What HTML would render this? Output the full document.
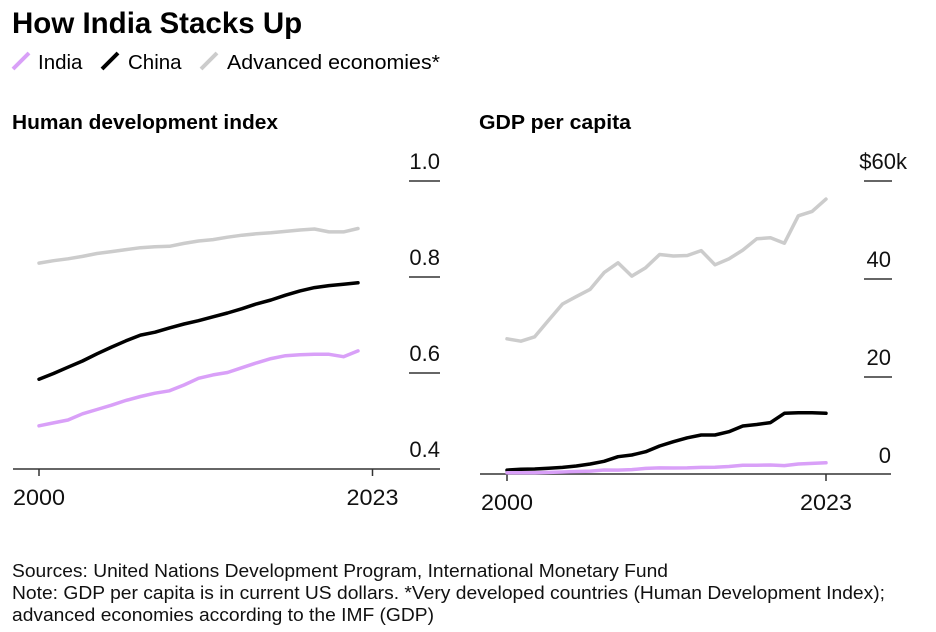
<!DOCTYPE html>
<html><head><meta charset="utf-8">
<style>
html,body{margin:0;padding:0;background:#fff;width:936px;height:632px;overflow:hidden}
svg{display:block;font-family:"Liberation Sans",Arial,sans-serif}
</style></head>
<body>
<svg id="chart" width="936" height="632" viewBox="0 0 936 632">
<text x="12" y="33" font-size="29.5" font-weight="bold" fill="#000">How India Stacks Up</text>
<g>
<g><line x1="13" y1="69" x2="29" y2="53" stroke="#d9a0f8" stroke-width="4"/><text x="38" y="69" font-size="20.5">India</text></g>
<g><line x1="102" y1="69" x2="118" y2="53" stroke="#000" stroke-width="4"/><text x="128" y="69" font-size="20.5">China</text></g>
<g><line x1="201" y1="69" x2="217" y2="53" stroke="#cccccc" stroke-width="4"/><text x="227" y="69" font-size="20.5" textLength="213" lengthAdjust="spacingAndGlyphs">Advanced economies*</text></g>
</g>
<text x="12" y="129" font-size="20.5" font-weight="bold" textLength="266" lengthAdjust="spacingAndGlyphs">Human development index</text>
<text x="479" y="129" font-size="20.5" font-weight="bold" textLength="152" lengthAdjust="spacingAndGlyphs">GDP per capita</text>
<g id="left"></g>
<g id="right"></g>
<g font-size="18.5" fill="#111">
<text x="12" y="577" textLength="656" lengthAdjust="spacingAndGlyphs">Sources: United Nations Development Program, International Monetary Fund</text>
<text x="12" y="599" textLength="873" lengthAdjust="spacingAndGlyphs">Note: GDP per capita is in current US dollars. *Very developed countries (Human Development Index);</text>
<text x="12" y="621" textLength="422" lengthAdjust="spacingAndGlyphs">advanced economies according to the IMF (GDP)</text>
</g>
</svg>
<script>
const hdiYears = [2000,2001,2002,2003,2004,2005,2006,2007,2008,2009,2010,2011,2012,2013,2014,2015,2016,2017,2018,2019,2020,2021,2022];
const hdiIndia = [0.490,0.496,0.502,0.515,0.524,0.533,0.543,0.551,0.558,0.563,0.575,0.589,0.596,0.601,0.611,0.621,0.630,0.636,0.638,0.639,0.639,0.634,0.646];
const hdiChina = [0.587,0.599,0.612,0.625,0.640,0.654,0.667,0.679,0.685,0.694,0.702,0.709,0.717,0.725,0.734,0.744,0.752,0.762,0.771,0.778,0.782,0.785,0.788];
const hdiAdvanced = [0.829,0.834,0.838,0.843,0.849,0.853,0.857,0.861,0.863,0.864,0.870,0.875,0.878,0.883,0.887,0.890,0.892,0.895,0.898,0.900,0.894,0.894,0.901];
const hdiTicks = [0.4,0.6,0.8,1.0];
const hdiTickLabels = ["0.4","0.6","0.8","1.0"];

const gdpYears = [2000,2001,2002,2003,2004,2005,2006,2007,2008,2009,2010,2011,2012,2013,2014,2015,2016,2017,2018,2019,2020,2021,2022,2023];
const gdpIndia = [0.44,0.45,0.47,0.54,0.62,0.71,0.80,1.02,1.00,1.10,1.35,1.45,1.43,1.44,1.56,1.59,1.73,1.98,1.97,2.05,1.91,2.25,2.37,2.48];
const gdpChina = [1.0,1.16,1.22,1.36,1.56,1.84,2.25,2.79,3.74,4.08,4.76,5.92,6.8,7.6,8.16,8.16,8.84,10.0,10.3,10.7,12.6,12.7,12.7,12.6];
const gdpAdvanced = [27.8,27.3,28.2,31.6,34.9,36.4,37.9,41.3,43.3,40.6,42.3,45.0,44.7,44.8,45.8,42.9,44.1,45.9,48.2,48.4,47.3,52.9,53.8,56.3];
const gdpTicks = [0,20,40,60];
const gdpTickLabels = ["0","20","40","$60k"];

const NS="http://www.w3.org/2000/svg";
function mk(tag,attrs,parent){const e=document.createElementNS(NS,tag);for(const k in attrs)e.setAttribute(k,attrs[k]);parent.appendChild(e);return e;}

function drawPanel(g,cfg){
  const x=yr=>cfg.x0+(yr-2000)*(cfg.x1-cfg.x0)/23;
  const y=v=>cfg.yBase-(v-cfg.vMin)*cfg.pxPerUnit;
  const ax=mk('line',{x1:cfg.axL,x2:cfg.axR,y1:cfg.axisY,y2:cfg.axisY,stroke:'#333','stroke-width':1.5},g);
  
  
  [2000,2023].forEach(yr=>{
    const t=mk('line',{x1:x(yr),x2:x(yr),y1:cfg.axisY,y2:cfg.axisY+7,stroke:'#333','stroke-width':1.5},g);
    
    
    const l=mk('text',{x:x(yr),y:cfg.axisY+36,'font-size':22,'text-anchor':'middle',fill:'#111',textLength:52,lengthAdjust:'spacingAndGlyphs'},g);
    l.textContent=String(yr);
    
    
  });
  cfg.ticks.forEach((v,i)=>{
    const yy=y(v);
    if(i>0){
      const gl=mk('line',{x1:cfg.gL,x2:cfg.gR,y1:yy,y2:yy,stroke:'#333','stroke-width':1.5},g);
      
      
    }
    const lab=cfg.labels[i];
    const lx=/k$/.test(lab)?cfg.labR+16:cfg.labR;
    const l=mk('text',{x:lx,y:yy-12,'font-size':22,'text-anchor':'end',fill:'#111'},g);
    l.textContent=lab;
    
    
  });
  cfg.series.forEach(s=>{
    const d=s.vals.map((v,i)=>(i?'L':'M')+x(cfg.years[i]).toFixed(1)+','+y(v).toFixed(1)).join(' ');
    const p=mk('path',{d:d,fill:'none',stroke:s.color,'stroke-width':3.5,'stroke-linejoin':'round','stroke-linecap':'round'},g);
    
    
  });
}
drawPanel(document.getElementById('left'),{
  x0:39,x1:372.5,yBase:469,vMin:0.4,pxPerUnit:480,axisY:469,axL:13,axR:440,gL:409,gR:440,labR:440,
  years:hdiYears,ticks:hdiTicks,labels:hdiTickLabels,
  series:[{vals:hdiAdvanced,color:'#cccccc',name:'hdi-advanced-line'},{vals:hdiChina,color:'#000',name:'hdi-china-line'},{vals:hdiIndia,color:'#d9a0f8',name:'hdi-india-line'}]
});
drawPanel(document.getElementById('right'),{
  x0:507,x1:826,yBase:475,vMin:0,pxPerUnit:4.9,axisY:474,axL:480,axR:891,gL:864,gR:892,labR:891,
  years:gdpYears,ticks:gdpTicks,labels:gdpTickLabels,
  series:[{vals:gdpAdvanced,color:'#cccccc',name:'gdp-advanced-line'},{vals:gdpChina,color:'#000',name:'gdp-china-line'},{vals:gdpIndia,color:'#d9a0f8',name:'gdp-india-line'}]
});
</script>
</body></html>
